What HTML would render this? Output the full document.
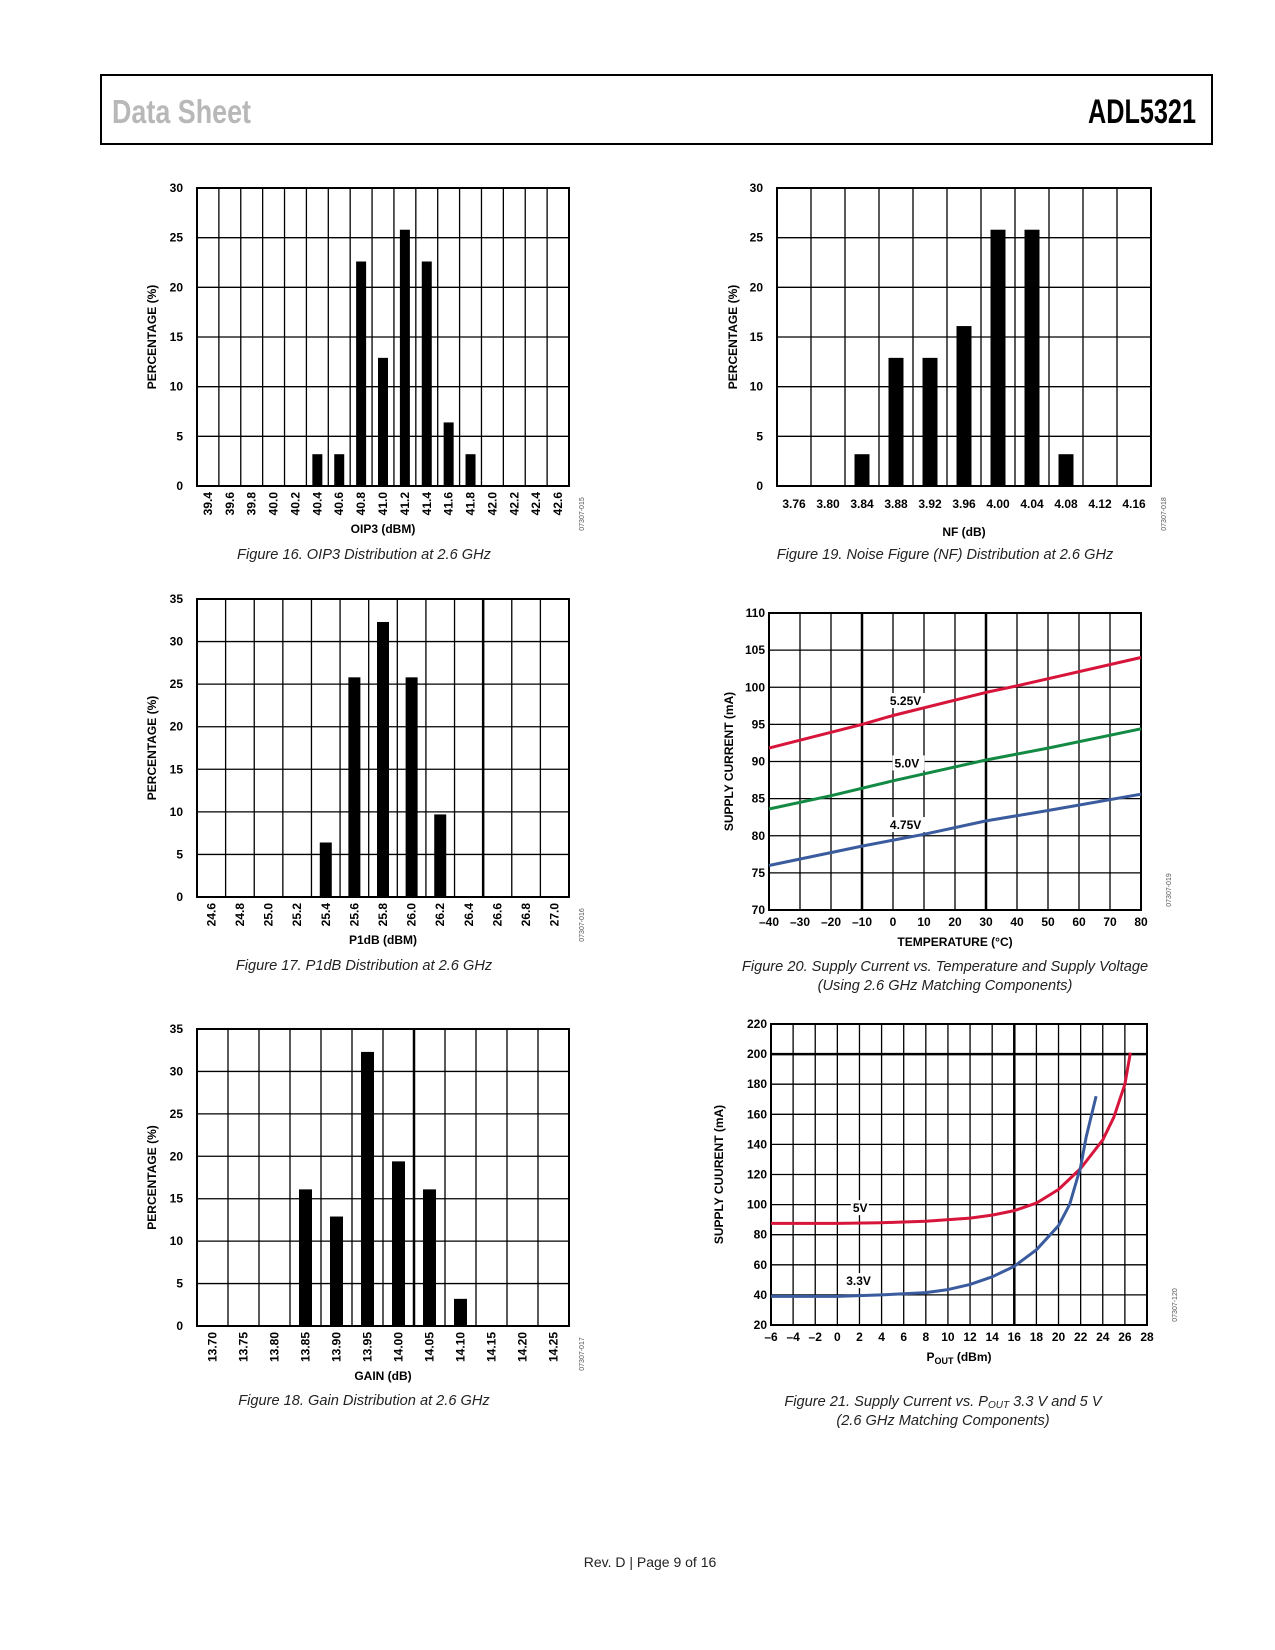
<!DOCTYPE html>
<html><head><meta charset="utf-8"><style>
html,body{margin:0;padding:0;background:#fff;}
svg{display:block;}
text{font-family:"Liberation Sans",sans-serif;}
.t{font-weight:bold;font-size:12px;fill:#000;}
.cap{font-style:italic;font-size:14.6px;fill:#222;}
</style></head><body>
<svg id="page" width="1275" height="1650" viewBox="0 0 1275 1650" xmlns="http://www.w3.org/2000/svg">
<rect x="101" y="75" width="1111" height="69" fill="none" stroke="#000" stroke-width="2"/>
<text x="112" y="123" font-weight="bold" font-size="33" fill="#b8b8b8" textLength="139" lengthAdjust="spacingAndGlyphs">Data Sheet</text>
<text x="1088" y="123" font-weight="bold" font-size="34" fill="#000" textLength="108" lengthAdjust="spacingAndGlyphs">ADL5321</text>
<text x="650" y="1567" text-anchor="middle" font-size="14" fill="#222">Rev. D | Page 9 of 16</text>
</svg>
<script>
// ---- Chart data ----
const oip3Cats = ["39.4","39.6","39.8","40.0","40.2","40.4","40.6","40.8","41.0","41.2","41.4","41.6","41.8","42.0","42.2","42.4","42.6"];
const oip3Vals = [0,0,0,0,0,3.2,3.2,22.6,12.9,25.8,22.6,6.4,3.2,0,0,0,0];
const oip3Ticks = [0,5,10,15,20,25,30];
const p1dbCats = ["24.6","24.8","25.0","25.2","25.4","25.6","25.8","26.0","26.2","26.4","26.6","26.8","27.0"];
const p1dbVals = [0,0,0,0,6.4,25.8,32.3,25.8,9.7,0,0,0,0];
const p1dbTicks = [0,5,10,15,20,25,30,35];
const gainCats = ["13.70","13.75","13.80","13.85","13.90","13.95","14.00","14.05","14.10","14.15","14.20","14.25"];
const gainVals = [0,0,0,16.1,12.9,32.3,19.4,16.1,3.2,0,0,0];
const gainTicks = [0,5,10,15,20,25,30,35];
const nfCats = ["3.76","3.80","3.84","3.88","3.92","3.96","4.00","4.04","4.08","4.12","4.16"];
const nfVals = [0,0,3.2,12.9,12.9,16.1,25.8,25.8,3.2,0,0];
const nfTicks = [0,5,10,15,20,25,30];
const tempX = [-40,-30,-20,-10,0,10,20,30,40,50,60,70,80];
const tempY = [70,75,80,85,90,95,100,105,110];
const t525x = [-40,-10,0,30,40,80];
const t525y = [91.8,95,96.2,99.3,100.2,104];
const t500x = [-40,-20,0,30,50,80];
const t500y = [83.6,85.4,87.4,90.2,91.8,94.4];
const t475x = [-40,-10,10,30,50,80];
const t475y = [76,78.6,80.2,82,83.4,85.6];
const poutX = [-6,-4,-2,0,2,4,6,8,10,12,14,16,18,20,22,24,26,28];
const poutY = [20,40,60,80,100,120,140,160,180,200,220];
const p5x = [-6,0,4,8,12,14,16,18,20,22,24,25,26,26.5];
const p5y = [87.5,87.5,88,89,91,93,96,101,110,124,143,158,180,201];
const p33x = [-6,0,4,8,10,12,14,16,18,20,21,22,22.5,23,23.4];
const p33y = [39,39,40,41.5,43.5,47,52,59,70,86,100,125,145,160,172];

const NS = "http://www.w3.org/2000/svg";
const svg = document.getElementById('page');
function mk(tag, attrs, parent) {
  const e = document.createElementNS(NS, tag);
  for (const k in attrs) e.setAttribute(k, attrs[k]);
  (parent || svg).appendChild(e);
  return e;
}
function txt(s, attrs, parent) { const e = mk('text', attrs, parent); e.textContent = s; return e; }

function histogram(name, L, T, R, B, cats, vals, ticks, ymax, barW, xTitle, yTitleX, code, thickIdx, capText, capX, capY, rotate, titleOff) {
  const g = mk('g', {});
  
  
  const n = cats.length, cw = (R - L) / n;
  const ys = v => B - v / ymax * (B - T);
  ticks.forEach(t => {
    const gl = mk('line', {x1: L, x2: R, y1: ys(t), y2: ys(t), stroke: '#000', 'stroke-width': 1.3}, g);
    
    
    const tl = txt(String(t), {x: L - 14, y: ys(t) + 4, 'text-anchor': 'end', class: 't'}, g);
    
    
  });
  for (let i = 1; i < n; i++) {
    const vl = mk('line', {x1: L + i * cw, x2: L + i * cw, y1: T, y2: B, stroke: '#000', 'stroke-width': i === thickIdx ? 2.5 : 1.3}, g);
    
    
  }
  mk('rect', {x: L, y: T, width: R - L, height: B - T, fill: 'none', stroke: '#000', 'stroke-width': 2}, g);
  cats.forEach((c, i) => {
    const cx = L + (i + 0.5) * cw;
    if (vals[i] > 0) {
      const b = mk('rect', {x: cx - barW / 2, y: ys(vals[i]), width: barW, height: B - ys(vals[i]), fill: '#000'}, g);
      
      
    }
    let l;
    if (rotate) {
      l = txt(c, {x: 0, y: 0, 'text-anchor': 'end', class: 't', transform: 'translate(' + (cx + 4) + ',' + (B + 6) + ') rotate(-90)'}, g);
    } else {
      l = txt(c, {x: cx, y: B + 22, 'text-anchor': 'middle', class: 't'}, g);
    }
    
    
  });
  const xt = txt(xTitle, {x: (L + R) / 2, y: B + titleOff, 'text-anchor': 'middle', class: 't'}, g);
  
  
  const yt = txt('PERCENTAGE (%)', {x: 0, y: 0, 'text-anchor': 'middle', class: 't', transform: 'translate(' + yTitleX + ',' + (T + B) / 2 + ') rotate(-90)'}, g);
  
  
  const cd = txt(code, {x: 0, y: 0, 'text-anchor': 'middle', 'font-size': 7, fill: '#555', transform: 'translate(' + (R + 15) + ',' + (B + 28) + ') rotate(-90)'}, g);
  
  
  const cp = txt(capText, {x: capX, y: capY, 'text-anchor': 'middle', class: 'cap'}, g);
  
  
}

histogram('oip3-histogram', 197, 188, 569, 486, oip3Cats, oip3Vals, oip3Ticks, 30, 10, 'OIP3 (dBM)', 156, '07307-015', -1, 'Figure 16. OIP3 Distribution at 2.6 GHz', 364, 559, true, 47);
histogram('p1db-histogram', 197, 599, 569, 897, p1dbCats, p1dbVals, p1dbTicks, 35, 12, 'P1dB (dBM)', 156, '07307-016', 10, 'Figure 17. P1dB Distribution at 2.6 GHz', 364, 970, true, 47);
histogram('gain-histogram', 197, 1029, 569, 1326, gainCats, gainVals, gainTicks, 35, 13, 'GAIN (dB)', 156, '07307-017', 7, 'Figure 18. Gain Distribution at 2.6 GHz', 364, 1405, true, 54);
histogram('nf-histogram', 777, 188, 1151, 486, nfCats, nfVals, nfTicks, 30, 15, 'NF (dB)', 737, '07307-018', -1, 'Figure 19. Noise Figure (NF) Distribution at 2.6 GHz', 945, 559, false, 50);

function linechart(name, L, T, R, B, xt, yt, thickX, thickY, series, labels, xTitle, yTitle, yTitleX, code, caps, capX, capY) {
  const g = mk('g', {});
  
  
  const x0 = xt[0], x1 = xt[xt.length - 1], y0 = yt[0], y1 = yt[yt.length - 1];
  const xs = v => L + (v - x0) / (x1 - x0) * (R - L);
  const ys = v => B - (v - y0) / (y1 - y0) * (B - T);
  yt.forEach(t => {
    const gl = mk('line', {x1: L, x2: R, y1: ys(t), y2: ys(t), stroke: '#000', 'stroke-width': t === thickY ? 2.5 : 1.3}, g);
    
    
    const tl = txt(String(t), {x: L - 4, y: ys(t) + 4, 'text-anchor': 'end', class: 't'}, g);
    
    
  });
  xt.forEach(t => {
    const thick = thickX.indexOf(t) >= 0;
    const gl = mk('line', {x1: xs(t), x2: xs(t), y1: T, y2: B, stroke: '#000', 'stroke-width': thick ? 2.5 : 1.3}, g);
    
    
    const tl = txt(String(t).replace('-', '\u2013'), {x: xs(t), y: B + 16, 'text-anchor': 'middle', class: 't'}, g);
    
    
  });
  mk('rect', {x: L, y: T, width: R - L, height: B - T, fill: 'none', stroke: '#000', 'stroke-width': 2}, g);
  labels.forEach(lb => {
    mk('rect', {x: xs(lb[1]) - 2, y: ys(lb[2]) - 12, width: lb[0].length * 7 + 4, height: 15, fill: '#fff'}, g);
    const t = txt(lb[0], {x: xs(lb[1]), y: ys(lb[2]), class: 't'}, g);
    
    
  });
  series.forEach(s => {
    const d = s.x.map((v, i) => (i ? 'L' : 'M') + xs(v).toFixed(1) + ',' + ys(s.y[i]).toFixed(1)).join(' ');
    const p = mk('path', {d: d, fill: 'none', stroke: s.c, 'stroke-width': 3, 'stroke-linejoin': 'round'}, g);
    
    
  });
  const xtl = txt('', {x: (L + R) / 2, y: B + 36, 'text-anchor': 'middle', class: 't'}, g);
  xtl.innerHTML = xTitle;
  
  
  const ytl = txt(yTitle, {x: 0, y: 0, 'text-anchor': 'middle', class: 't', transform: 'translate(' + yTitleX + ',' + (T + B) / 2 + ') rotate(-90)'}, g);
  
  
  const cd = txt(code, {x: 0, y: 0, 'text-anchor': 'middle', 'font-size': 7, fill: '#555', transform: 'translate(' + (R + 30) + ',' + (B - 20) + ') rotate(-90)'}, g);
  
  
  caps.forEach((c, i) => {
    const cp = txt('', {x: capX, y: capY + i * 19, 'text-anchor': 'middle', class: 'cap'}, g);
    cp.innerHTML = c;
    
    
  });
}

linechart('supply-current-vs-temperature-chart', 769, 613, 1141, 910, tempX, tempY, [-10, 30], -999,
  [{n: 'line-5-25v', x: t525x, y: t525y, c: '#d7153a'}, {n: 'line-5-0v', x: t500x, y: t500y, c: '#138a44'}, {n: 'line-4-75v', x: t475x, y: t475y, c: '#3a5b9e'}],
  [['5.25V', -1, 97.6], ['5.0V', 0.5, 89.2], ['4.75V', -1, 80.9]],
  'TEMPERATURE (\u00b0C)', 'SUPPLY CURRENT (mA)', 733, '07307-019',
  ['Figure 20. Supply Current vs. Temperature and Supply Voltage', '(Using 2.6 GHz Matching Components)'], 945, 971);

linechart('supply-current-vs-pout-chart', 771, 1024, 1147, 1325, poutX, poutY, [16], 200,
  [{n: 'line-5v', x: p5x, y: p5y, c: '#d7153a'}, {n: 'line-3-3v', x: p33x, y: p33y, c: '#3a5b9e'}],
  [['5V', 1.4, 95], ['3.3V', 0.8, 46.5]],
  'P<tspan font-size="9" dy="3">OUT</tspan><tspan dy="-3"> (dBm)</tspan>', 'SUPPLY CUURENT (mA)', 723, '07307-120',
  ['Figure 21. Supply Current vs. P<tspan font-size="10" dy="2">OUT</tspan><tspan dy="-2"> 3.3 V and 5 V</tspan>', '(2.6 GHz Matching Components)'], 943, 1406);
</script>
</body></html>
